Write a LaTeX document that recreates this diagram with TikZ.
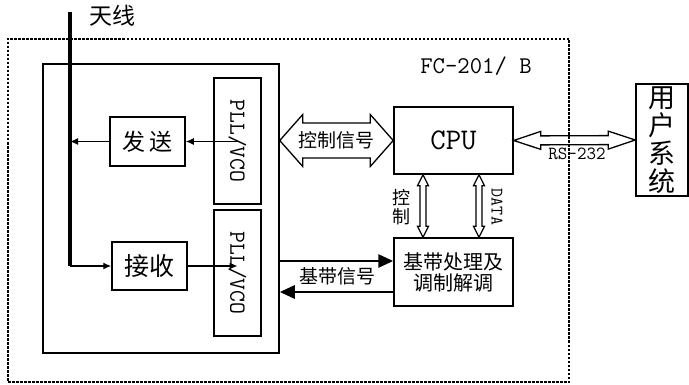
\documentclass[tikz,border=0pt]{standalone}
\usepackage{fontspec}
\setmainfont{Noto Sans CJK SC}
\usetikzlibrary{arrows.meta, calc}

% hollow two-headed arrow: #1,#2 tips; #3 shaft half; #4 head half; #5 head length
\newcommand{\hollowlink}[5]{%
  \draw[hollow] (#1)
    -- ($(#1)!#5!(#2)!#4!90:(#2)$) -- ($(#1)!#5!(#2)!#3!90:(#2)$)
    -- ($(#2)!#5!(#1)!#3!-90:(#1)$) -- ($(#2)!#5!(#1)!#4!-90:(#1)$)
    -- (#2)
    -- ($(#2)!#5!(#1)!#4!90:(#1)$) -- ($(#2)!#5!(#1)!#3!90:(#1)$)
    -- ($(#1)!#5!(#2)!#3!-90:(#2)$) -- ($(#1)!#5!(#2)!#4!-90:(#2)$)
    -- cycle;}

\begin{document}
\begin{tikzpicture}[
    x=1pt, y=-1pt,
    blk/.style={draw, line width=1.5pt, inner sep=0pt, text centered},
    pll/.style={blk, rotate=-90, minimum width=126pt, minimum height=47pt, font=\ttfamily\fontsize{23}{23}\selectfont},
    sig/.style={-{Latex[length=8pt,width=7pt]}, line width=1.3pt},
    bus/.style={-{Triangle[length=15pt,width=13pt]}, line width=2.8pt},
    hollow/.style={draw, fill=white, line width=1.3pt, line join=miter},
    antline/.style={line width=3.2pt},
    zone/.style={draw, dash pattern=on 2.5pt off 1.5pt, line width=1.3pt, inner sep=0pt}
]
\useasboundingbox (0,0) rectangle (689,385);

% =====================================================================
% RADIO BOARD
% =====================================================================
\node[blk, minimum width=236pt, minimum height=289pt] (board) at (161,208.5) {};
\node[pll] (pllT) at (237.5,141) {PLL/VCO};
\node[pll] (pllR) at (237.5,273) {PLL/VCO};
\node[blk, minimum width=75pt, minimum height=49pt, font=\fontsize{23}{23}\selectfont] (tx) at (147.5,141.5) {发\hspace{0.2em}送};
\node[blk, minimum width=75pt, minimum height=48pt, font=\fontsize{25}{25}\selectfont] (rx) at (149.5,266) {接收};

% antenna
\coordinate (ant) at (70,12);
\node[font=\fontsize{23}{23}\selectfont] (antlbl) at (112,16) {天线};

% =====================================================================
% CPU, BASEBAND, USER
% =====================================================================
\node[blk, minimum width=119pt, minimum height=67pt, font=\ttfamily\fontsize{30}{30}\selectfont] (cpu) at (453.5,140.5) {CPU};
\node[blk, minimum width=119pt, minimum height=68pt, align=center, font=\fontsize{20}{21}\selectfont] (bb) at (453.5,272) {基带处理及\\调制解调};
\node[blk, minimum width=52pt, minimum height=112pt, align=center, font=\fontsize{27}{28}\selectfont] (user) at (662,140) {用\\户\\系\\统};
\node[font=\ttfamily\fontsize{24}{24}\selectfont] (fclbl) at (476,66) {FC-201/ B};

% =====================================================================
% CONNECTIONS
% =====================================================================
\draw[antline] (ant) -- (ant |- rx.west);
\draw[sig] (ant |- rx.west) -- (rx.west);
\draw[sig] (tx.west) -- (tx.west -| ant);
\draw[sig] (tx.east -| pllT.west) -- (tx.east);
\draw[sig] (rx.east) -- (rx.east -| pllR.west);

% baseband signal
\coordinate (bbin) at ([yshift=11pt]bb.west);
\coordinate (bbout) at ([yshift=-20pt]bb.west);
\draw[bus] (bbin -| board.east) -- (bbin);
\draw[bus] (bbout) -- (bbout -| board.east);
\node[font=\fontsize{19}{19}\selectfont] (bblbl) at (337,276) {基带信号};

% control signal
\coordinate (ctlA) at (board.east |- cpu.west);
\hollowlink{ctlA}{cpu.west}{17.5pt}{26pt}{23pt}
\node[font=\fontsize{19}{19}\selectfont] (ctllbl) at ($(ctlA)!0.5!(cpu.west)$) {控制信号};

% cpu <-> baseband
\coordinate (ctlU) at ([xshift=-30.5pt]cpu.south);
\coordinate (ctlD) at (ctlU |- bb.north);
\coordinate (datU) at ([xshift=25.5pt]cpu.south);
\coordinate (datD) at (datU |- bb.north);
\hollowlink{ctlU}{ctlD}{3pt}{5.5pt}{11pt}
\hollowlink{datU}{datD}{3pt}{5.5pt}{11pt}
\node[align=center, font=\fontsize{18}{19}\selectfont] (ctrllbl) at (401,207) {控\\制};
\node[rotate=-90, font=\ttfamily\fontsize{17.5}{17.5}\selectfont] (datalbl) at (497,207) {DATA};

% serial link
\hollowlink{cpu.east}{user.west}{4.5pt}{9pt}{27pt}
\node[font=\ttfamily\fontsize{18.5}{18.5}\selectfont] (rslbl) at (577,154) {RS-232};

% module outline
\node[zone, minimum width=561pt, minimum height=343pt] (module) at (288.5,210.5) {};

\end{tikzpicture}
\end{document}
